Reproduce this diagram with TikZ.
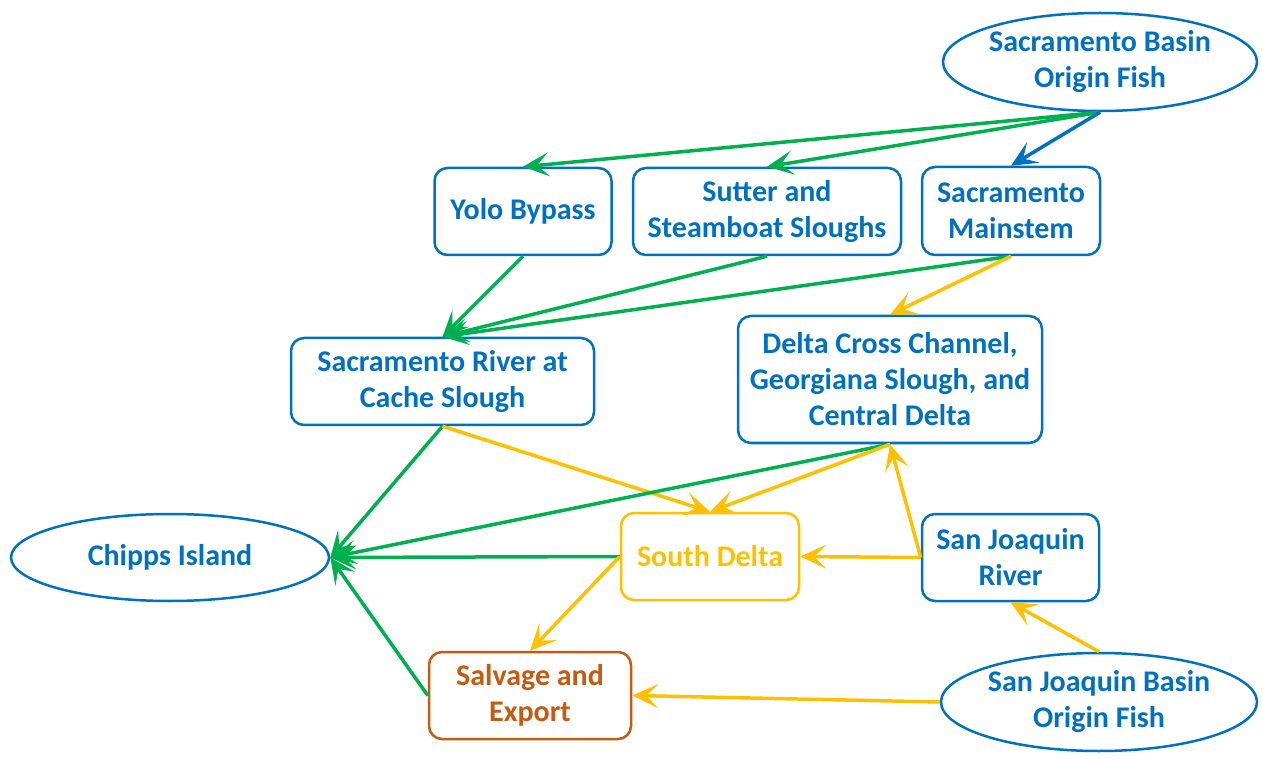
\documentclass[tikz,border=0pt]{standalone}
\usepackage{fontspec}
\setmainfont{Carlito}
\usetikzlibrary{arrows.meta,shapes.geometric}
\definecolor{cblue}{HTML}{0070C0}
\definecolor{cgreen}{HTML}{00B050}
\definecolor{cyellow}{HTML}{FFC000}
\definecolor{corange}{HTML}{C55A11}
\tikzset{
  base/.style={inner sep=0pt, align=center, line width=2.5pt,
    font=\fontsize{30}{36}\selectfont\bfseries, fill=white},
  rbox/.style={base, rectangle, rounded corners=13pt, draw=cblue, text=cblue},
  ell/.style={base, ellipse, draw=cblue, text=cblue},
  conn/.style={line width=3.5pt, -{Stealth[length=26pt,width=24pt,inset=12pt]}},
  gconn/.style={conn, draw=cgreen, fill=cgreen},
  yconn/.style={conn, draw=cyellow, fill=cyellow},
  bconn/.style={conn, draw=cblue, fill=cblue},
}
\begin{document}
\begin{tikzpicture}[x=1pt,y=-1pt]
\useasboundingbox (0,0) rectangle (1262,759);
\node[ell, minimum width=314pt, minimum height=98pt] (sb) at (1100,62) {Sacramento Basin\\Origin Fish};
\node[rbox, minimum width=177pt, minimum height=87pt] (yolo) at (523,211.5) {Yolo Bypass};
\node[rbox, minimum width=268pt, minimum height=87pt] (sutter) at (767,211.5) {Sutter and\\Steamboat Sloughs};
\node[rbox, minimum width=178pt, minimum height=88pt] (main) at (1011,211) {Sacramento\\Mainstem};
\node[rbox, minimum width=303pt, minimum height=87pt] (cache) at (442.5,381.5) {Sacramento River at\\Cache Slough};
\node[rbox, minimum width=304pt, minimum height=127pt] (dcc) at (890,379.5) {Delta Cross Channel,\\Georgiana Slough, and\\Central Delta};
\node[ell, minimum width=318pt, minimum height=87pt] (chipps) at (170,557.5) {Chipps Island};
\node[rbox, draw=cyellow, text=cyellow, minimum width=178pt, minimum height=87pt] (south) at (710,556.5) {South Delta};
\node[rbox, minimum width=177pt, minimum height=87pt] (sjr) at (1010.5,557.5) {San Joaquin\\River};
\node[rbox, draw=corange, text=corange, minimum width=202pt, minimum height=87pt] (salv) at (530,695.5) {Salvage and\\Export};
\node[ell, minimum width=316pt, minimum height=98pt] (sjb) at (1099,702) {San Joaquin Basin\\Origin Fish};
% connectors
\draw[gconn] (sb.south) -- (yolo.north);
\draw[gconn] (sb.south) -- (sutter.north);
\draw[bconn] (sb.south) -- (main.north);
\draw[gconn] (yolo.south) -- (cache.north);
\draw[gconn] (sutter.south) -- (cache.north);
\draw[gconn] (main.south) -- (cache.north);
\draw[yconn] (main.south) -- (dcc.north);
\draw[gconn] (cache.south) -- (chipps.east);
\draw[yconn] (cache.south) -- (south.north);
\draw[gconn] (dcc.south) -- (chipps.east);
\draw[yconn] (dcc.south) -- (south.north);
\draw[gconn] (south.west) -- (chipps.east);
\draw[yconn] (south.west) -- (salv.north);
\draw[gconn] (salv.west) -- (chipps.east);
\draw[yconn] (sjr.west) -- (south.east);
\draw[yconn] (sjr.west) -- (dcc.south);
\draw[yconn] (sjb.north) -- (sjr.south);
\draw[yconn] (sjb.west) -- (salv.east);
\end{tikzpicture}
\end{document}
